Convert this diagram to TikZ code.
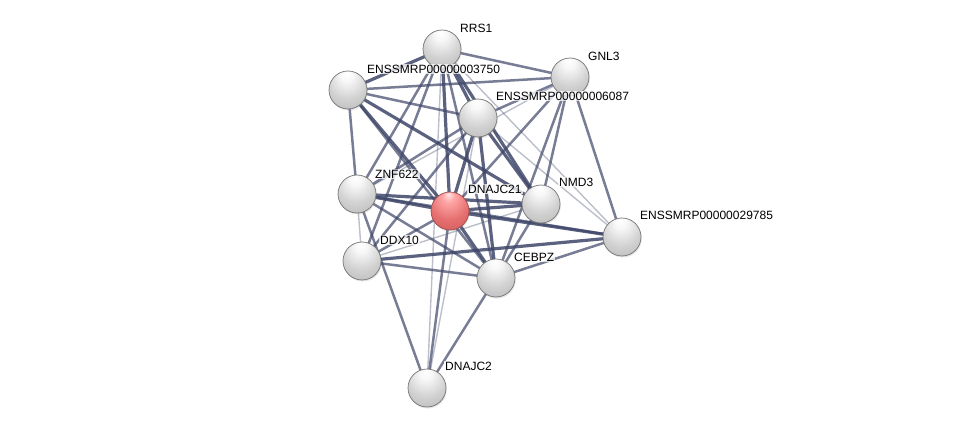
\documentclass[tikz,border=0pt]{standalone}
\usepackage{fontspec}
\setmainfont{Liberation Sans}
\usetikzlibrary{shadows}
\pgfdeclarelayer{bg}
\pgfsetlayers{bg,main}
\pgfdeclareradialshading{sball}{\pgfpoint{-2bp}{22bp}}{color(0bp)=(white); color(8bp)=(white!97!black); color(26bp)=(white!82!black); color(40bp)=(white!74!black); color(50bp)=(white!68!black); color(70bp)=(white!68!black)}
\pgfdeclareradialshading{sballred}{\pgfpoint{-2bp}{22bp}}{color(0bp)=(red!10!white); color(8bp)=(red!35!white); color(26bp)=(red!52!white!90!black); color(40bp)=(red!55!white!82!black); color(50bp)=(red!60!white!72!black); color(70bp)=(red!60!white!72!black)}
\definecolor{edgec}{HTML}{3E4668}
\tikzset{
  ballnode/.style={circle, minimum size=38pt, inner sep=0pt, shading=sball, draw=black!55, line width=0.7pt,
    drop shadow={opacity=0.2, shadow xshift=0.8pt, shadow yshift=-1.5pt}},
  redball/.style={ballnode, shading=sballred, draw=red!45!black!70},
  lbl/.style={anchor=west, font=\fontsize{12}{14}\selectfont, fill=white, fill opacity=0.75, text opacity=1, inner sep=1pt},
  es/.style={draw=edgec, line width=3.2pt, opacity=0.85},
  em/.style={draw=edgec, line width=2.5pt, opacity=0.7},
  el/.style={draw=edgec, line width=1.4pt, opacity=0.35}
}
\begin{document}
\begin{tikzpicture}[x=1pt,y=-1pt]
\useasboundingbox (0,0) rectangle (975,433);
\node[ballnode] (R) at (442,49) {};
\node[ballnode] (G) at (570,77) {};
\node[ballnode] (A) at (348,90) {};
\node[ballnode] (B) at (478,118) {};
\node[ballnode] (Z) at (357,194) {};
\node[redball] (D) at (450,211) {};
\node[ballnode] (N) at (541,204) {};
\node[ballnode] (E) at (622,237) {};
\node[ballnode] (X) at (362,261) {};
\node[ballnode] (C) at (496,278) {};
\node[ballnode] (J) at (427,388) {};
\node[lbl] (lR) at (459,28) {RRS1};
\node[lbl] (lG) at (587,56) {GNL3};
\node[lbl] (lA) at (366,69) {ENSSMRP00000003750};
\node[lbl] (lB) at (495,96) {ENSSMRP00000006087};
\node[lbl] (lZ) at (374,174) {ZNF622};
\node[lbl] (lD) at (467,189) {DNAJC21};
\node[lbl] (lN) at (558,182) {NMD3};
\node[lbl] (lE) at (639,215) {ENSSMRP00000029785};
\node[lbl] (lX) at (379,240) {DDX10};
\node[lbl] (lC) at (513,257) {CEBPZ};
\node[lbl] (lJ) at (444,366) {DNAJC2};
\begin{pgfonlayer}{bg}
\foreach \a/\b/\s in {R/A/es, R/G/em, R/B/es, R/Z/em, R/X/em, R/D/es, R/N/es, R/C/em, R/E/el,
  A/G/em, A/B/em, A/Z/em, A/D/es, A/N/es, A/C/em,
  G/B/em, G/Z/el, G/D/em, G/N/em, G/C/em, G/E/em,
  B/Z/em, B/X/em, B/D/es, B/N/es, B/C/es, B/E/el,
  Z/D/es, Z/N/es, Z/C/em, Z/X/el, Z/J/em, Z/E/em,
  X/D/em, X/N/el, X/C/em, X/E/es,
  D/N/es, D/C/es, D/E/es, D/J/em,
  N/C/em, C/E/em, C/J/em, J/B/el, J/R/el}
  \draw[\s] (\a.center) -- (\b.center);
\end{pgfonlayer}
\end{tikzpicture}
\end{document}
